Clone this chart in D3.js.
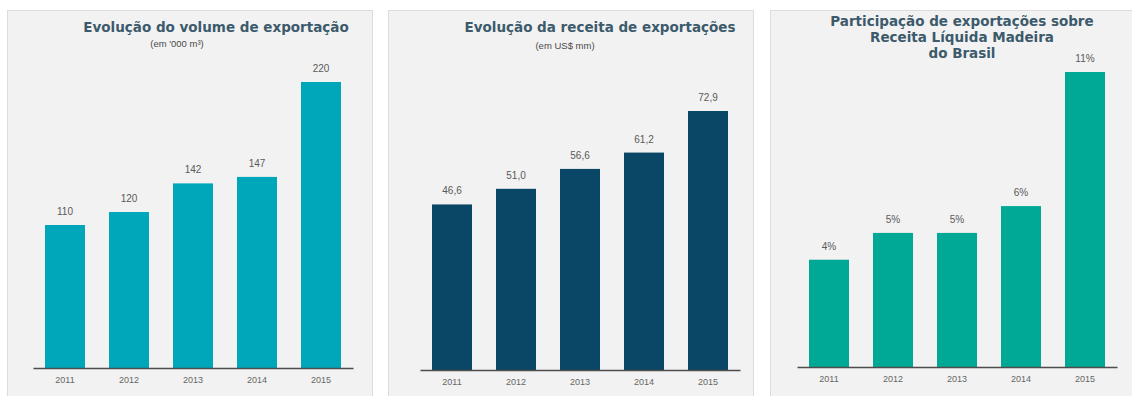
<!DOCTYPE html>
<html>
<head>
<meta charset="utf-8">
<script src="https://cdn.jsdelivr.net/npm/d3@7"></script>
<style>
  html, body { margin: 0; padding: 0; background: #ffffff; }
  svg { display: block; }
</style>
</head>
<body>
<svg id="chart" width="1132" height="396"></svg>
<script>
// Shared categories
const years = ["2011", "2012", "2013", "2014", "2015"];

// Export volume ('000 m³)
const volumeValues = [110, 120, 142, 147, 220];
const volumeLabels = ["110", "120", "142", "147", "220"];

// Export revenue (US$ mm)
const revenueValues = [46.6, 51.0, 56.6, 61.2, 72.9];
const revenueLabels = ["46,6", "51,0", "56,6", "61,2", "72,9"];

// Export share of net wood revenue in Brazil (%)
const shareValues = [4, 5, 5, 6, 11];
const shareLabels = ["4%", "5%", "5%", "6%", "11%"];

const volumeTitle = ["Evolução do volume de exportação"];
const volumeSubtitle = "(em '000 m³)";
const revenueTitle = ["Evolução da receita de exportações"];
const revenueSubtitle = "(em US$ mm)";
const shareTitle = ["Participação de exportações sobre", "Receita Líquida Madeira", "do Brasil"];

const panels = [
  { values: volumeValues, labels: volumeLabels, title: volumeTitle, subtitle: volumeSubtitle,
    color: "#00a6b9", box: [7, 10, 365, 400], axis: [33, 353], base: 368, top: 82,
    titleX: 216, titleY: 28, subX: 177, subY: 44 },
  { values: revenueValues, labels: revenueLabels, title: revenueTitle, subtitle: revenueSubtitle,
    color: "#0a4766", box: [388, 10, 365, 400], axis: [420, 740], base: 370, top: 111,
    titleX: 600, titleY: 28, subX: 565, subY: 46 },
  { values: shareValues, labels: shareLabels, title: shareTitle, subtitle: null,
    color: "#00a896", box: [770, 10, 370, 400], axis: [797, 1117], base: 367, top: 72,
    titleX: 962, titleY: 22, subX: null, subY: null }
];

const svg = d3.select("#chart");

panels.forEach(p => {
  const g = svg.append("g");

  // panel background
  g.append("rect")
    .attr("x", p.box[0] + 0.5).attr("y", p.box[1] + 0.5)
    .attr("width", p.box[2]).attr("height", p.box[3])
    .attr("fill", "#f2f2f2").attr("stroke", "#dcdcdc").attr("stroke-width", 1);

  const x = d3.scaleBand()
    .domain(years)
    .range(p.axis)
    .paddingInner(0.375)
    .paddingOuter(0.1875);

  const y = d3.scaleLinear()
    .domain([0, d3.max(p.values)])
    .range([p.base, p.top]);

  // bars
  g.selectAll("rect.bar")
    .data(p.values)
    .join("rect")
    .attr("class", "bar")
    .attr("x", (d, i) => x(years[i]))
    .attr("y", d => y(d))
    .attr("width", x.bandwidth())
    .attr("height", d => y(0) - y(d))
    .attr("fill", p.color);

  // value labels
  g.selectAll("text.val")
    .data(p.values)
    .join("text")
    .attr("class", "val")
    .attr("x", (d, i) => x(years[i]) + x.bandwidth() / 2)
    .attr("y", d => y(d) - 10)
    .attr("text-anchor", "middle")
    .attr("font-family", "Arial, 'Liberation Sans', sans-serif")
    .attr("font-size", 10)
    .attr("fill", "#595959")
    .text((d, i) => p.labels[i]);

  // category axis
  const axis = g.append("g")
    .attr("transform", `translate(0,${p.base})`)
    .call(d3.axisBottom(x).tickSize(0).tickPadding(9));
  axis.select(".domain").attr("stroke", "#4d4d4d").attr("stroke-width", 1.5);
  axis.selectAll("text")
    .attr("font-family", "Arial, 'Liberation Sans', sans-serif")
    .attr("font-size", 9)
    .attr("fill", "#666666");

  // title
  p.title.forEach((line, i) => {
    g.append("text")
      .attr("x", p.titleX)
      .attr("y", p.titleY + i * 16)
      .attr("text-anchor", "middle")
      .attr("dominant-baseline", "middle")
      .attr("font-family", "'DejaVu Sans', Verdana, sans-serif")
      .attr("font-weight", "bold")
      .attr("font-size", 13.5)
      .attr("fill", "#3c5a6c")
      .text(line);
  });
  if (p.subtitle) {
    g.append("text")
      .attr("x", p.subX)
      .attr("y", p.subY)
      .attr("text-anchor", "middle")
      .attr("dominant-baseline", "middle")
      .attr("font-family", "Arial, 'Liberation Sans', sans-serif")
      .attr("font-size", 9.5)
      .attr("fill", "#4a4a4a")
      .text(p.subtitle);
  }
});
</script>
</body>
</html>
